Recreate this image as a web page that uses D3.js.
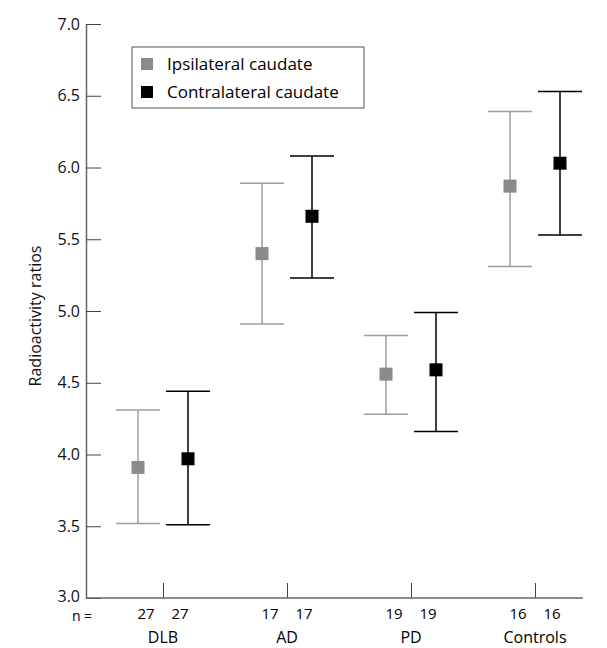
<!DOCTYPE html>
<head>
  <meta charset="utf-8">
  <script src="https://d3js.org/d3.v7.min.js"></script>
  <style>
    body { margin: 0; background: #fff; }
    svg { display: block; font-family: "Open Sans", Lato, sans-serif; }
  </style>
</head>
<body>
  <svg width="607" height="648"></svg>
  <script>
    // values
    var categories = ['DLB', 'AD', 'PD', 'Controls'];
    var nIpsi = [27, 17, 19, 16];
    var nContra = [27, 17, 19, 16];
    var ipsiMean = [3.91, 5.40, 4.56, 5.87];
    var ipsiLow = [3.52, 4.91, 4.28, 5.31];
    var ipsiHigh = [4.31, 5.89, 4.83, 6.39];
    var contraMean = [3.97, 5.66, 4.59, 6.03];
    var contraLow = [3.51, 5.23, 4.16, 5.53];
    var contraHigh = [4.44, 6.08, 4.99, 6.53];
    var yTicks = [3.0, 3.5, 4.0, 4.5, 5.0, 5.5, 6.0, 6.5, 7.0];
    var seriesNames = ['Ipsilateral caudate', 'Contralateral caudate'];

    var grey = '#8a8a8a', greyLine = '#9c9c9c', black = '#000';
    var axisLeftX = 86, axisRightX = 583, axisY = 598, axisTop = 24;
    var font = '"Open Sans", Lato, sans-serif';

    var svg = d3.select('svg');

    var yScale = d3.scaleLinear().domain([3, 7]).range([axisY, axisTop]);
    var xScale = d3.scalePoint().domain(categories).range([163, 535]);
    var offset = d3.scalePoint().domain(['ipsi', 'contra']).range([-25, 25]);

    // y axis, ticks pointing inwards
    var yAxis = d3.axisLeft(yScale)
      .tickValues(yTicks)
      .tickFormat(d3.format('.1f'))
      .tickSizeInner(-15)
      .tickSizeOuter(0)
      .tickPadding(6);
    var gy = svg.append('g')
      .attr('transform', 'translate(' + axisLeftX + ',0)')
      .call(yAxis);
    gy.select('.domain').attr('stroke', '#666').attr('stroke-width', 1.5);
    gy.selectAll('.tick line').attr('stroke', '#444');
    gy.selectAll('.tick text').attr('font-size', 16).attr('fill', '#111')
      .attr('font-family', font);
    // bottom label sits a little higher so it clears the n row
    gy.selectAll('.tick text').filter(function (d) { return d === 3; })
      .attr('dy', '0.2em');

    // x axis
    var xAxis = d3.axisBottom(xScale)
      .tickSizeInner(-15)
      .tickSizeOuter(0)
      .tickFormat('');
    var gx = svg.append('g')
      .attr('transform', 'translate(0,' + axisY + ')')
      .call(xAxis);
    gx.select('.domain').remove();
    gx.selectAll('.tick line').attr('stroke', '#444');
    gx.append('line')
      .attr('x1', axisLeftX).attr('x2', axisRightX)
      .attr('stroke', '#666').attr('stroke-width', 1.5);

    // y label
    svg.append('text')
      .attr('transform', 'translate(41,' + (yScale(5) + 5) + ') rotate(-90)')
      .attr('text-anchor', 'middle')
      .attr('font-size', 16)
      .attr('fill', '#111')
      .text('Radioactivity ratios');

    // n row and category names
    svg.append('text')
      .attr('x', 82).attr('y', 621)
      .attr('text-anchor', 'middle')
      .attr('font-size', 14)
      .text('n =');

    categories.forEach(function (c, i) {
      svg.append('text')
        .attr('x', xScale(c) - 17).attr('y', 619)
        .attr('text-anchor', 'middle').attr('font-size', 15)
        .text(nIpsi[i]);
      svg.append('text')
        .attr('x', xScale(c) + 17).attr('y', 619)
        .attr('text-anchor', 'middle').attr('font-size', 15)
        .text(nContra[i]);
      svg.append('text')
        .attr('x', xScale(c)).attr('y', 643)
        .attr('text-anchor', 'middle').attr('font-size', 16)
        .text(c);
    });

    // error bars
    var series = [
      { key: 'ipsi', mean: ipsiMean, low: ipsiLow, high: ipsiHigh, fill: grey, line: greyLine },
      { key: 'contra', mean: contraMean, low: contraLow, high: contraHigh, fill: black, line: black }
    ];

    var capHalf = 22, sq = 13;

    series.forEach(function (s) {
      var g = svg.append('g');
      categories.forEach(function (c, i) {
        var cx = xScale(c) + offset(s.key);
        g.append('line')
          .attr('x1', cx).attr('x2', cx)
          .attr('y1', yScale(s.low[i])).attr('y2', yScale(s.high[i]))
          .attr('stroke', s.line).attr('stroke-width', 1.5);
        [s.low[i], s.high[i]].forEach(function (v) {
          g.append('line')
            .attr('x1', cx - capHalf).attr('x2', cx + capHalf)
            .attr('y1', yScale(v)).attr('y2', yScale(v))
            .attr('stroke', s.line).attr('stroke-width', 1.5);
        });
        g.append('rect')
          .attr('x', cx - sq / 2).attr('y', yScale(s.mean[i]) - sq / 2)
          .attr('width', sq).attr('height', sq)
          .attr('fill', s.fill);
      });
    });

    // legend
    var legend = svg.append('g').attr('transform', 'translate(132,47)');
    legend.append('rect')
      .attr('width', 232).attr('height', 61)
      .attr('fill', '#fff').attr('stroke', '#555').attr('stroke-width', 1);
    seriesNames.forEach(function (name, i) {
      legend.append('rect')
        .attr('x', 9).attr('y', 11 + i * 28)
        .attr('width', 12).attr('height', 12)
        .attr('fill', series[i].fill);
      legend.append('text')
        .attr('x', 35).attr('y', 23 + i * 28)
        .attr('font-size', 17)
        .text(name);
    });
  </script>
</body>
